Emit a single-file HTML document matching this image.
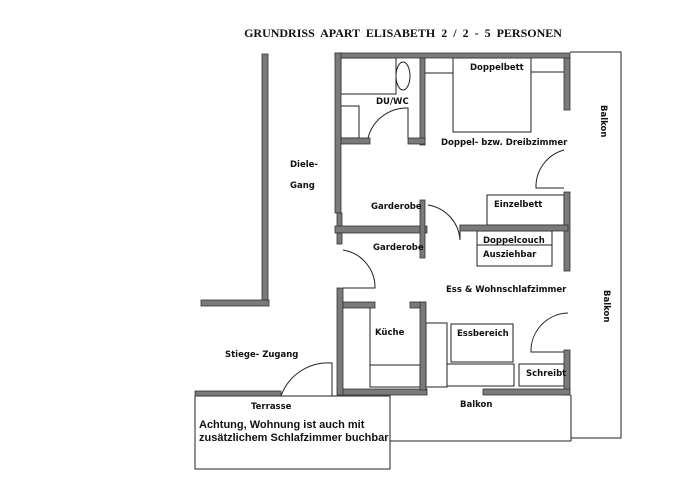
<!DOCTYPE html>
<html><head><meta charset="utf-8"><style>
html,body{margin:0;padding:0;background:#fff}
svg{display:block}
text{font-family:"DejaVu Sans","Liberation Sans",sans-serif;font-weight:bold;fill:#111}
</style></head><body>
<svg width="700" height="500" viewBox="0 0 700 500">
<g fill="none" stroke="#222" stroke-width="1">
  <polyline points="570,52 621,52 621,438 571,438"/>
  <line x1="571" y1="395" x2="571" y2="441"/>
  <line x1="390" y1="441" x2="571" y2="441"/>
  <rect x="195" y="396" width="195" height="73"/>
  <rect x="341" y="58" width="55" height="36"/>
  <rect x="341" y="106" width="18" height="32"/>
  <ellipse cx="403" cy="76" rx="7" ry="14"/>
  <line x1="425" y1="73" x2="453" y2="73"/>
  <rect x="453" y="58" width="78" height="74"/>
  <line x1="531" y1="72" x2="564" y2="72"/>
  <rect x="487" y="195" width="77" height="30"/>
  <rect x="477" y="231" width="75" height="35"/>
  <line x1="477" y1="245" x2="552" y2="245"/>
  <line x1="370" y1="308" x2="370" y2="386"/>
  <rect x="370" y="365" width="50" height="22"/>
  <rect x="426" y="323" width="21" height="64"/>
  <rect x="451" y="324" width="62" height="38"/>
  <rect x="447" y="364" width="67" height="22"/>
  <rect x="519" y="364" width="45" height="22"/>
  <path d="M368,138 A40,40 0 0 1 408,108 L408,138"/>
  <path d="M428,205 A38,38 0 0 1 460,240 L460,225"/>
  <path d="M343,250 A38,38 0 0 1 375,288 L343,288"/>
  <path d="M281,396 A50,50 0 0 1 332,363 L332,396"/>
  <path d="M564,150 A38,38 0 0 0 536,188 L564,188"/>
  <path d="M568,313 A38,38 0 0 0 531,352 L568,352"/>
</g>
<g fill="#7a7a7a" stroke="#333" stroke-width="0.8">
  <rect x="262" y="54" width="6" height="246"/>
  <rect x="201" y="300" width="68" height="6"/>
  <rect x="335" y="53" width="235" height="5"/>
  <rect x="335" y="53" width="6" height="160"/>
  <rect x="337" y="213" width="5" height="14"/>
  <rect x="564" y="58" width="6" height="52"/>
  <rect x="564" y="192" width="6" height="79"/>
  <rect x="564" y="350" width="6" height="45"/>
  <rect x="420" y="58" width="5" height="87"/>
  <rect x="341" y="138" width="29" height="6"/>
  <rect x="408" y="138" width="17" height="6"/>
  <rect x="335" y="226" width="92" height="7"/>
  <rect x="420" y="200" width="5" height="58"/>
  <rect x="337" y="233" width="5" height="11"/>
  <rect x="460" y="225" width="108" height="6"/>
  <rect x="337" y="288" width="6" height="107"/>
  <rect x="343" y="389" width="84" height="6"/>
  <rect x="483" y="389" width="87" height="6"/>
  <rect x="343" y="302" width="32" height="6"/>
  <rect x="410" y="302" width="15" height="6"/>
  <rect x="420" y="302" width="6" height="88"/>
  <rect x="195" y="391" width="86" height="5"/>
</g>
<text x="403" y="37" text-anchor="middle" style="font-family:'Liberation Serif',serif;font-size:12px;word-spacing:3px">GRUNDRISS APART ELISABETH 2 / 2 - 5 PERSONEN</text>
<g font-size="8.5">
<text x="376" y="104">DU/WC</text>
<text x="470" y="70">Doppelbett</text>
<text x="441" y="145">Doppel- bzw. Dreibzimmer</text>
<text x="290" y="167">Diele-</text>
<text x="290" y="188">Gang</text>
<text x="371" y="209">Garderobe</text>
<text x="494" y="207">Einzelbett</text>
<text x="373" y="250">Garderobe</text>
<text x="483" y="243">Doppelcouch</text>
<text x="483" y="257">Ausziehbar</text>
<text x="446" y="292">Ess  &amp;  Wohnschlafzimmer</text>
<text x="375" y="335">Küche</text>
<text x="457" y="336">Essbereich</text>
<text x="225" y="357">Stiege- Zugang</text>
<text x="526" y="376">Schreibt</text>
<text x="251" y="409">Terrasse</text>
<text x="460" y="407">Balkon</text>
<text transform="translate(601,105) rotate(90)">Balkon</text>
<text transform="translate(604,290) rotate(90)">Balkon</text>
</g>
<text x="199" y="428" style="font-family:'Liberation Sans',sans-serif;font-size:11px">Achtung, Wohnung ist auch mit</text>
<text x="199" y="441" style="font-family:'Liberation Sans',sans-serif;font-size:11px">zusätzlichem Schlafzimmer buchbar</text>
</svg>
</body></html>
